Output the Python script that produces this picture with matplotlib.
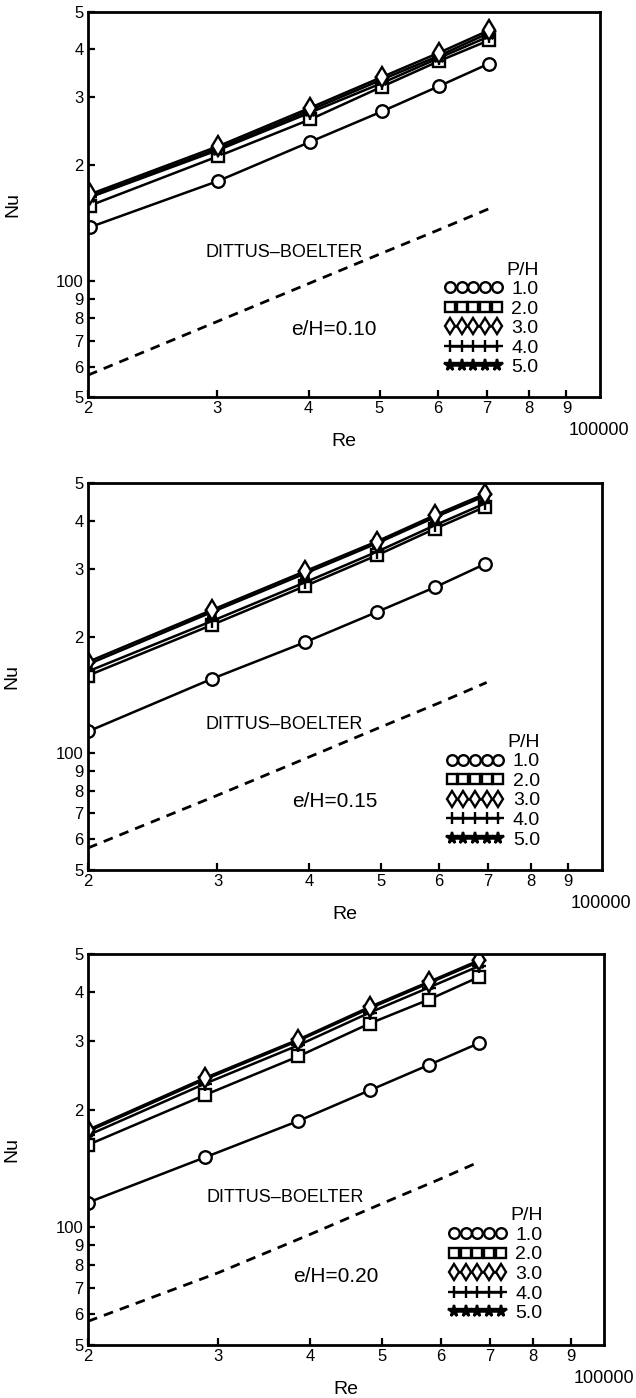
import matplotlib
matplotlib.use('Agg')
import matplotlib.pyplot as plt
from matplotlib.ticker import FixedLocator, FixedFormatter, NullLocator

plt.rcParams['font.family'] = ['Liberation Sans', 'DejaVu Sans']

# values (e/H = 0.10, 0.15, 0.20)
ph_labels = ['1.0', '2.0', '3.0', '4.0', '5.0']

re_a = [20100, 30100, 40200, 50400, 60300, 70500]
a_ph10 = [138, 182, 230, 276, 321, 367]
a_ph20 = [157, 211, 263, 320, 373, 422]
a_ph30 = [168, 224, 282, 339, 392, 448]
a_ph40 = [165, 219, 274, 327, 380, 432]
a_ph50 = [166, 221, 278, 334, 385, 441]
db_re_a = [20000, 30000, 40000, 50000, 60000, 71000]
db_nu_a = [57, 78.5, 98.5, 117.5, 135.5, 155]

re_b = [20000, 29500, 39500, 49400, 59300, 69400]
b_ph10 = [114, 156, 194, 232, 269, 309]
b_ph20 = [159, 215, 271, 325, 381, 434]
b_ph30 = [172.5, 235, 296, 353, 413, 469]
b_ph40 = [163, 220, 277, 332, 389, 443]
b_ph50 = [170, 232, 292, 349, 408, 463]
db_re_b = [20000, 30000, 40000, 50000, 60000, 69700]
db_nu_b = [57, 78, 98, 117, 135, 152.6]

re_c = [20000, 28800, 38500, 48100, 57800, 67700]
c_ph10 = [115.7, 151, 187, 224, 260, 296]
c_ph20 = [162.5, 218, 273.5, 332, 382, 437]
c_ph30 = [177.5, 241, 302, 366, 424, 482]
c_ph40 = [172, 233, 292, 354, 410, 466]
c_ph50 = [176, 239, 300, 363, 421, 478]
db_re_c = [20000, 30000, 40000, 50000, 60000, 67100]
db_nu_c = [57.5, 76.5, 96, 115, 133, 146]

x_ticks = [20000, 30000, 40000, 50000, 60000, 70000, 80000, 90000]
x_ticklabels = ['2', '3', '4', '5', '6', '7', '8', '9']
y_ticks = [50, 60, 70, 80, 90, 100, 200, 300, 400, 500]
y_ticklabels = ['5', '6', '7', '8', '9', '100', '2', '3', '4', '5']

styles = {
    '1.0': dict(marker='o', mfc='white', ms=9),
    '2.0': dict(marker='s', mfc='white', ms=8),
    '3.0': dict(marker='d', mfc='white', ms=10),
    '4.0': dict(marker='+', ms=10),
    '5.0': dict(marker='*', mfc='black', ms=10),
}

panels = [
    ('e/H=0.10', re_a, [a_ph10, a_ph20, a_ph30, a_ph40, a_ph50], db_re_a, db_nu_a),
    ('e/H=0.15', re_b, [b_ph10, b_ph20, b_ph30, b_ph40, b_ph50], db_re_b, db_nu_b),
    ('e/H=0.20', re_c, [c_ph10, c_ph20, c_ph30, c_ph40, c_ph50], db_re_c, db_nu_c),
]
# axes rectangles in figure fractions
rects = [
    [0.1384, 0.716, 0.805, 0.2754],
    [0.1384, 0.3777, 0.808, 0.2768],
    [0.1384, 0.0379, 0.812, 0.2797],
]

fig = plt.figure(figsize=(6.36, 13.98), dpi=100)

for (tag, re, series, db_re, db_nu), rect in zip(panels, rects):
    ax = fig.add_axes(rect)
    ax.set_xscale('log')
    ax.set_yscale('log')

    handles = {}
    for i in [0, 1, 3, 4, 2]:
        lab = ph_labels[i]
        h, = ax.plot(re, series[i], color='black', lw=1.8, mec='black',
                     mew=1.7, **styles[lab])
        handles[lab] = h

    ax.plot(db_re, db_nu, color='black', lw=2, dashes=(3.5, 2.6))

    ax.set_xlim(20000, 100000)
    ax.set_ylim(50, 500)
    ax.xaxis.set_major_locator(FixedLocator(x_ticks))
    ax.xaxis.set_major_formatter(FixedFormatter(x_ticklabels))
    ax.xaxis.set_minor_locator(NullLocator())
    ax.yaxis.set_major_locator(FixedLocator(y_ticks))
    ax.yaxis.set_major_formatter(FixedFormatter(y_ticklabels))
    ax.yaxis.set_minor_locator(NullLocator())
    ax.tick_params(direction='in', length=5, width=1.6, labelsize=12,
                   top=False, right=False, pad=3)
    for sp in ax.spines.values():
        sp.set_linewidth(2)

    ax.set_xlabel('Re', fontsize=14, labelpad=12)
    ax.set_ylabel('Nu', fontsize=14)
    ax.yaxis.set_label_coords(-0.131, 0.5)
    ax.text(1.058, -0.086, '100000', transform=ax.transAxes, ha='right',
            va='center', fontsize=13)

    ax.text(28900, 119, 'DITTUS\u2013BOELTER', fontsize=13, va='center', ha='left')
    ax.text(37900, 75, tag, fontsize=15, va='center', ha='left')

    ax.legend([handles[k] for k in ph_labels], ph_labels, title='P/H',
              loc='upper right', bbox_to_anchor=(0.88, 0.352),
              frameon=False, numpoints=5, handlelength=3.0,
              handletextpad=0.45, labelspacing=0.1, fontsize=14,
              title_fontsize=14, alignment='right', borderpad=0,
              borderaxespad=0, markerscale=0.85)

fig.savefig('out.png', dpi=100, facecolor='white')
